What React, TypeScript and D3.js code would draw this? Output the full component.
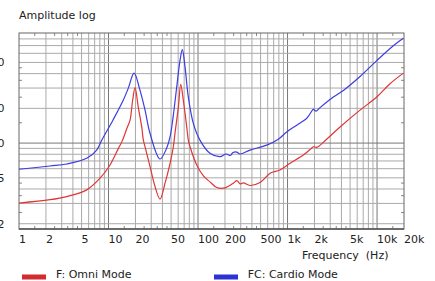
import React from 'react';
import * as d3 from 'd3';

// F: Omni Mode (red)
const omniFreq = [1, 2.22, 3.41, 5.71, 8.04, 10.4, 12.9, 14.2, 16.1, 17.4, 18.6, 19.8, 21.5, 23.5, 24.5, 25.6, 29.1, 33.1, 37.6, 42.8, 48.7, 53.0, 55.3, 60.3, 64.1, 68.5, 74.8, 77.9, 81.4, 96.7, 115, 136, 162, 200, 248, 271, 295, 321, 381, 493, 638, 824, 1066, 1501, 1783, 1941, 2118, 2692, 3860, 6456, 9922, 13960, 19680];
const omniAmp = [3.02, 3.23, 3.44, 3.93, 4.96, 6.46, 9.0, 10.4, 13.5, 15.8, 23.5, 30.2, 20.5, 13.8, 10.6, 9.29, 6.25, 4.2, 3.27, 4.49, 6.68, 9.29, 12.2, 20.5, 32.3, 23.5, 13.8, 10.6, 9.29, 6.46, 5.19, 4.61, 4.12, 4.09, 4.49, 4.73, 4.43, 4.52, 4.29, 4.55, 5.48, 5.85, 6.68, 7.88, 8.79, 9.29, 9.18, 10.7, 13.8, 19.3, 25.1, 32.7, 40.4];

// FC: Cardio Mode (blue)
const cardioFreq = [1, 2.22, 3.41, 5.71, 7.38, 8.4, 11.2, 14.6, 16.6, 19.3, 22.5, 25.6, 29.1, 37.6, 44.7, 48.7, 52.6, 57.8, 62.9, 66.8, 71.6, 77.9, 88.6, 105, 136, 176, 206, 228, 246, 271, 295, 381, 586, 789, 979, 1267, 1639, 1830, 1941, 2080, 2306, 3249, 4203, 6456, 9922, 15200, 19680];
const cardioAmp = [5.93, 6.33, 6.59, 7.38, 8.7, 10.6, 15.8, 23.5, 29.8, 40.4, 28.6, 19.3, 12.1, 7.28, 9.06, 11.3, 16.7, 30.6, 51.9, 64.6, 45.5, 25.1, 14.8, 10.6, 8.15, 7.62, 8.04, 7.8, 8.28, 8.36, 8.04, 8.7, 9.61, 10.8, 12.5, 14.3, 16.4, 18.5, 19.6, 18.9, 20.3, 25.1, 28.6, 37.8, 51.9, 69.8, 80.9];

const xTickValues = [1, 2, 5, 10, 20, 50, 100, 200, 500, 1000, 2000, 5000, 10000, 20000];
const xTickLabels = ['1', '2', '5', '10', '20', '50', '100', '200', '500', '1k', '2k', '5k', '10k', '20k'];
const yTickValues = [2, 5, 10, 20, 50];
const yTickLabels = ['2', '5', '10', '20', '50'];
const xDecades = [1, 10, 100, 1000, 10000];
const yDecades = [1, 10];
const minorMultipliers = [1.5, 2.5, 3.5, 4.5];

const seriesNames = ['F: Omni Mode', 'FC: Cardio Mode'];

export default function App() {
  const W = 435, H = 281;
  const L = 19, R = 404, T = 33, B = 229;
  const x = d3.scaleLog().domain([1, 20000]).range([L, R]);
  const y = d3.scaleLog().domain([1.8, 90]).range([B, T]);

  const gridX: { v: number; major: boolean }[] = [];
  xDecades.forEach(d => {
    for (let k = 1; k <= 9; k++) {
      const v = k * d;
      if (v > 1 && v < 20000) gridX.push({ v, major: k === 1 });
    }
  });
  const gridY: { v: number; major: boolean }[] = [];
  yDecades.forEach(d => {
    for (let k = 1; k <= 9; k++) {
      const v = k * d;
      if (v > 1.8 && v < 90) gridY.push({ v, major: k === 1 });
    }
  });
  const minorX: number[] = [];
  xDecades.forEach(d => minorMultipliers.forEach(m => { const v = m * d; if (v > 1 && v < 20000) minorX.push(v); }));
  const minorY: number[] = [];
  yDecades.forEach(d => minorMultipliers.forEach(m => { const v = m * d; if (v > 1.8 && v < 90) minorY.push(v); }));

  const line = d3.line<[number, number]>()
    .x(d => x(d[0]))
    .y(d => y(d[1]))
    .curve(d3.curveCatmullRom.alpha(0.5));
  const omni = line(omniFreq.map((f, i) => [f, omniAmp[i]] as [number, number])) || '';
  const cardio = line(cardioFreq.map((f, i) => [f, cardioAmp[i]] as [number, number])) || '';

  const font = '"DejaVu Sans", Verdana, sans-serif';
  const red = '#e03535';
  const blue = '#3c3ce2';

  return (
    <svg width={W} height={H} style={{ position: 'absolute', left: 0, top: 0, background: '#fff' }} fontFamily={font}>
      <text x={19} y={18.5} fontSize={11} fill="#222">Amplitude log</text>
      <defs>
        <clipPath id="plot"><rect x={L} y={T} width={R - L} height={B - T} /></clipPath>
      </defs>
      {gridX.map((g, i) => (
        <line key={'gx' + i} x1={x(g.v)} x2={x(g.v)} y1={T} y2={B} stroke={g.major ? '#777' : '#aaa'} strokeWidth={1} />
      ))}
      {gridY.map((g, i) => (
        <line key={'gy' + i} x1={L} x2={R} y1={y(g.v)} y2={y(g.v)} stroke={g.major ? '#777' : '#aaa'} strokeWidth={1} />
      ))}
      {minorX.map((v, i) => (
        <g key={'mx' + i}>
          <line x1={x(v)} x2={x(v)} y1={T} y2={T + 3} stroke="#888" />
          <line x1={x(v)} x2={x(v)} y1={B} y2={B - 3} stroke="#888" />
        </g>
      ))}
      {minorY.map((v, i) => (
        <g key={'my' + i}>
          <line x1={L} x2={L + 3} y1={y(v)} y2={y(v)} stroke="#888" />
          <line x1={R} x2={R - 3} y1={y(v)} y2={y(v)} stroke="#888" />
        </g>
      ))}
      <rect x={L} y={T} width={R - L} height={B - T} fill="none" stroke="#666" strokeWidth={1} />
      <line x1={L} x2={R} y1={B} y2={B} stroke="#555" strokeWidth={1.5} />
      <g clipPath="url(#plot)">
        <path d={omni} fill="none" stroke={red} strokeWidth={1.2} />
        <path d={cardio} fill="none" stroke={blue} strokeWidth={1.2} />
      </g>
      {xTickValues.map((v, i) => (
        <text key={'xt' + i} x={x(v)} y={243.3} fontSize={11} fill="#222" textAnchor="start">{xTickLabels[i]}</text>
      ))}
      {yTickValues.map((v, i) => (
        <text key={'yt' + i} x={4.5} y={y(v) + 4} fontSize={11} fill="#222" textAnchor="end">{yTickLabels[i]}</text>
      ))}
      <text x={302} y={258.5} fontSize={11} fill="#222" style={{ whiteSpace: 'pre' }}>{'Frequency  (Hz)'}</text>
      <rect x={22} y={274.5} width={24} height={5} fill="#d42c2c" />
      <text x={56} y={277.7} fontSize={11} fill="#222">{seriesNames[0]}</text>
      <rect x={214} y={274.5} width={24} height={5} fill="#2c33d4" />
      <text x={247.7} y={277.7} fontSize={11} fill="#222">{seriesNames[1]}</text>
    </svg>
  );
}
